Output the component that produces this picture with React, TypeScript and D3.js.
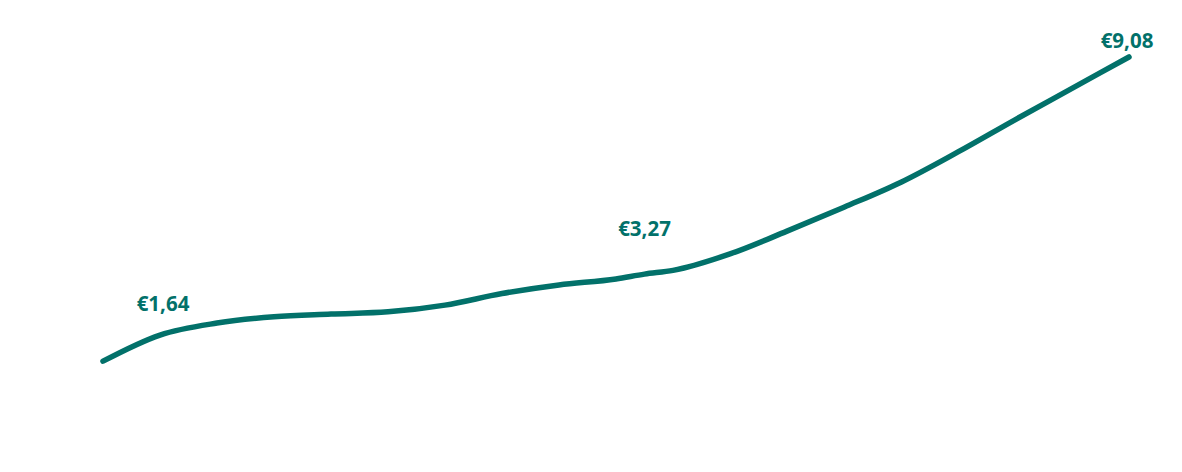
import React from "react";
import * as d3 from "d3";

// period index (one unit per step), value in euro
const periods = [0, 1, 2, 3, 4, 5, 6, 7, 8, 9, 9.5, 10, 11, 12, 13, 14, 15, 16, 17, 18];
const prices = [0.94, 1.64, 1.96, 2.13, 2.2, 2.26, 2.44, 2.75, 2.98, 3.14, 3.27, 3.37, 3.81, 4.42, 5.06, 5.73, 6.54, 7.4, 8.24, 9.08];

const labelIdx = [1, 10, 19];
const labelText = ["€1,64", "€3,27", "€9,08"];
const labelDx = [3, 0, -2];
const labelDy = [-24, -38, -9];

const W = 1182;
const H = 472;
const COLOR = "#02716a";

export default function App() {
  const x = d3.scaleLinear().domain([0, 18]).range([103, 1129]);
  const y = d3.scaleLinear().domain([0, 9.08]).range([396.3, 57]);
  const data = periods.map((p, i) => ({ p, v: prices[i] }));
  const line = d3
    .line<{ p: number; v: number }>()
    .x((d) => x(d.p))
    .y((d) => y(d.v))
    .curve(d3.curveMonotoneX);

  return (
    <svg
      width={W}
      height={H}
      style={{ position: "absolute", left: 0, top: 0, background: "#fff" }}
    >
      <path
        d={line(data) || ""}
        fill="none"
        stroke={COLOR}
        strokeWidth={5.5}
        strokeLinecap="round"
        strokeLinejoin="round"
      />
      {labelIdx.map((idx, k) => (
        <text
          key={k}
          x={x(periods[idx]) + labelDx[k]}
          y={y(prices[idx]) + labelDy[k]}
          textAnchor="middle"
          fill={COLOR}
          fontFamily="'Open Sans', sans-serif"
          fontWeight={700}
          fontSize={20.5}
        >
          {labelText[k]}
        </text>
      ))}
    </svg>
  );
}
